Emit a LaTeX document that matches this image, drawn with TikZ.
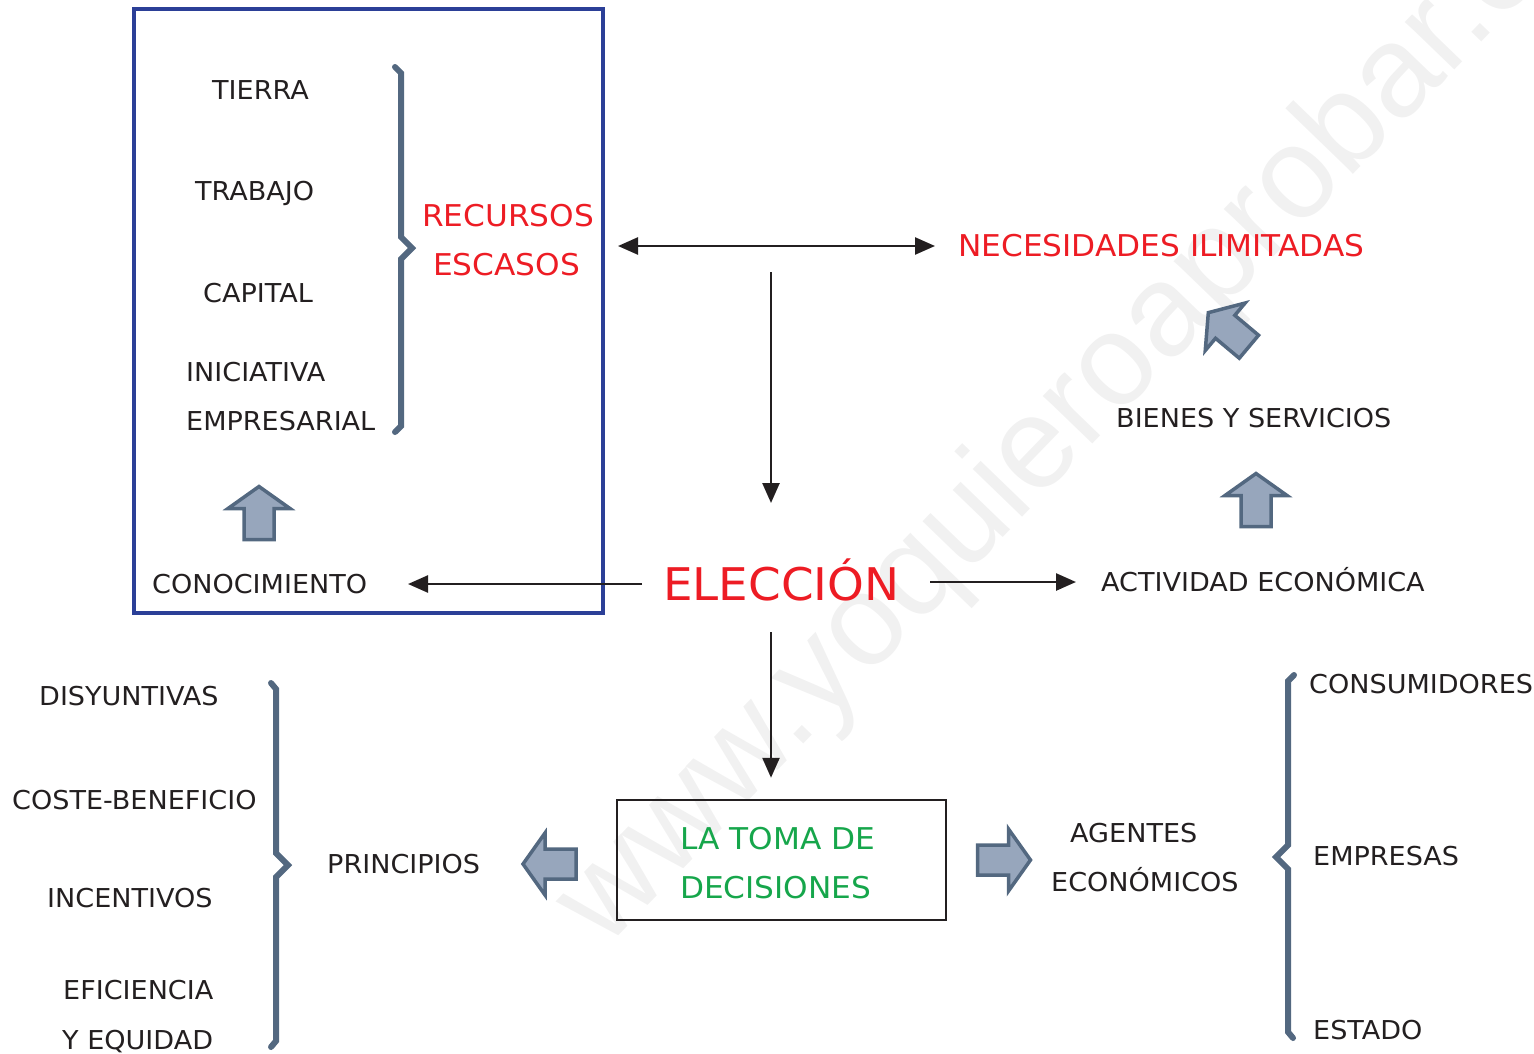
\documentclass[tikz,border=0pt]{standalone}
\usepackage{fontspec}
\setmainfont[FakeStretch=1.04]{DejaVu Sans}
\newfontfamily\marcafont{Liberation Sans}
\usetikzlibrary{arrows.meta}
\definecolor{azul}{RGB}{43,63,151}
\definecolor{pizarra}{RGB}{83,104,128}
\definecolor{relleno}{RGB}{151,166,188}
\definecolor{rojo}{RGB}{237,28,36}
\definecolor{verde}{RGB}{22,166,75}
\definecolor{tinta}{RGB}{35,31,32}
\definecolor{marca}{RGB}{241,241,241}
\tikzset{
  etiqueta/.style={anchor=base west, inner sep=0pt, text=tinta, font=\fontsize{26}{30}\selectfont},
  titulo/.style={etiqueta, text=rojo, font=\fontsize{30}{36}\selectfont},
  verdetxt/.style={etiqueta, text=verde, font=\fontsize{30}{36}\selectfont},
  flecha/.style={draw=tinta, line width=2.5pt, -{Triangle[length=20pt,width=17pt]}},
  doble/.style={flecha, {Triangle[length=20pt,width=17pt]}-{Triangle[length=20pt,width=17pt]}},
  llave/.style={draw=pizarra, line width=6pt, line cap=round, line join=miter},
  bloque/.pic={\draw[draw=pizarra, fill=relleno, line width=3.5pt]
    (-26,-15) -- (5,-15) -- (5,-31) -- (27,0) -- (5,31) -- (5,15) -- (-26,15) -- cycle;}
}
\begin{document}
\begin{tikzpicture}[x=1pt, y=-1pt]
  \useasboundingbox (0,0) rectangle (1534,1053);
  % marca de agua
  \node[rotate=46, anchor=base west, inner sep=0pt, text=marca,
    font=\marcafont\fontsize{130}{130}\selectfont] (web) at (605,950) {www.yoquieroaprobar.es};
  % recursos
  \node[draw=azul, line width=4pt, minimum width=469pt, minimum height=604pt] (marco) at (368.5,311) {};
  \node[etiqueta] (tierra) at (212,99.5) {TIERRA};
  \node[etiqueta] (trabajo) at (195,200.5) {TRABAJO};
  \node[etiqueta] (capital) at (203,302.5) {CAPITAL};
  \node[etiqueta] (iniciativa) at (186,381.5) {INICIATIVA};
  \node[etiqueta] (empresarial) at (186,430.5) {EMPRESARIAL};
  \node[titulo] (recursos) at (422,226) {RECURSOS};
  \node[titulo] (escasos) at (433,275) {ESCASOS};
  \node[etiqueta] (conocimiento) at (152,593.5) {CONOCIMIENTO};
  \draw[llave] (395,67) -- (401,73) -- (401,237) -- (412,248) -- (401,259) -- (401,426) -- (395,432);
  \pic[rotate=90] at (259,513.5) {bloque};
  % centro
  \node[titulo] (necesidades) at (958,256) {NECESIDADES ILIMITADAS};
  \node[etiqueta, text=rojo, font=\fontsize{45}{50}\selectfont] (eleccion) at (663,600) {ELECCIÓN};
  \node[etiqueta] (actividad) at (1101,591.5) {ACTIVIDAD ECONÓMICA};
  \node[etiqueta] (bienes) at (1116,427.5) {BIENES Y SERVICIOS};
  \pic[rotate=90] at (1256,500.5) {bloque};
  \pic[rotate=140] at (1229,330) {bloque};
  \coordinate (ida) at (618,246);
  \coordinate (vuelta) at (935,246);
  \coordinate (baja) at (771,272);
  \coordinate (llega) at (771,503);
  \coordinate (sale1) at (642,584);
  \coordinate (llega1) at (408,584);
  \coordinate (sale2) at (930,582);
  \coordinate (llega2) at (1076,582);
  \coordinate (sale3) at (771,632);
  \draw[doble] (ida) -- (vuelta);
  \draw[flecha] (baja) -- (llega);
  \draw[flecha] (sale1) -- (llega1);
  \draw[flecha] (sale2) -- (llega2);
  % decisiones
  \node[draw=tinta, line width=2.5pt, minimum width=329pt, minimum height=120pt] (toma) at (781.5,860) {};
  \node[verdetxt] (toma1) at (680,849) {LA TOMA DE};
  \node[verdetxt] (toma2) at (680,898) {DECISIONES};
  \draw[flecha, shorten >=21pt] (sale3) -- (sale3 |- toma.north);
  \pic[rotate=180] at (550,864) {bloque};
  \pic at (1003.5,860) {bloque};
  % principios
  \node[etiqueta] (principios) at (327,873.5) {PRINCIPIOS};
  \node[etiqueta] (disyuntivas) at (39,705.5) {DISYUNTIVAS};
  \node[etiqueta] (coste) at (12,809.5) {COSTE-BENEFICIO};
  \node[etiqueta] (incentivos) at (47,907.5) {INCENTIVOS};
  \node[etiqueta] (eficiencia) at (63,999.5) {EFICIENCIA};
  \node[etiqueta] (equidad) at (62,1049.5) {Y EQUIDAD};
  \draw[llave] (271,683) -- (276,689) -- (276,853) -- (288,865) -- (276,877) -- (276,1041) -- (271,1047);
  % agentes
  \node[etiqueta] (agentes) at (1070,842.5) {AGENTES};
  \node[etiqueta] (economicos) at (1051,891.5) {ECONÓMICOS};
  \node[etiqueta] (consumidores) at (1309,693.5) {CONSUMIDORES};
  \node[etiqueta] (empresas) at (1313,865.5) {EMPRESAS};
  \node[etiqueta] (estado) at (1313,1039.5) {ESTADO};
  \draw[llave] (1294,675) -- (1288,681) -- (1288,845) -- (1276,857) -- (1288,869) -- (1288,1032) -- (1293,1038);
\end{tikzpicture}
\end{document}
